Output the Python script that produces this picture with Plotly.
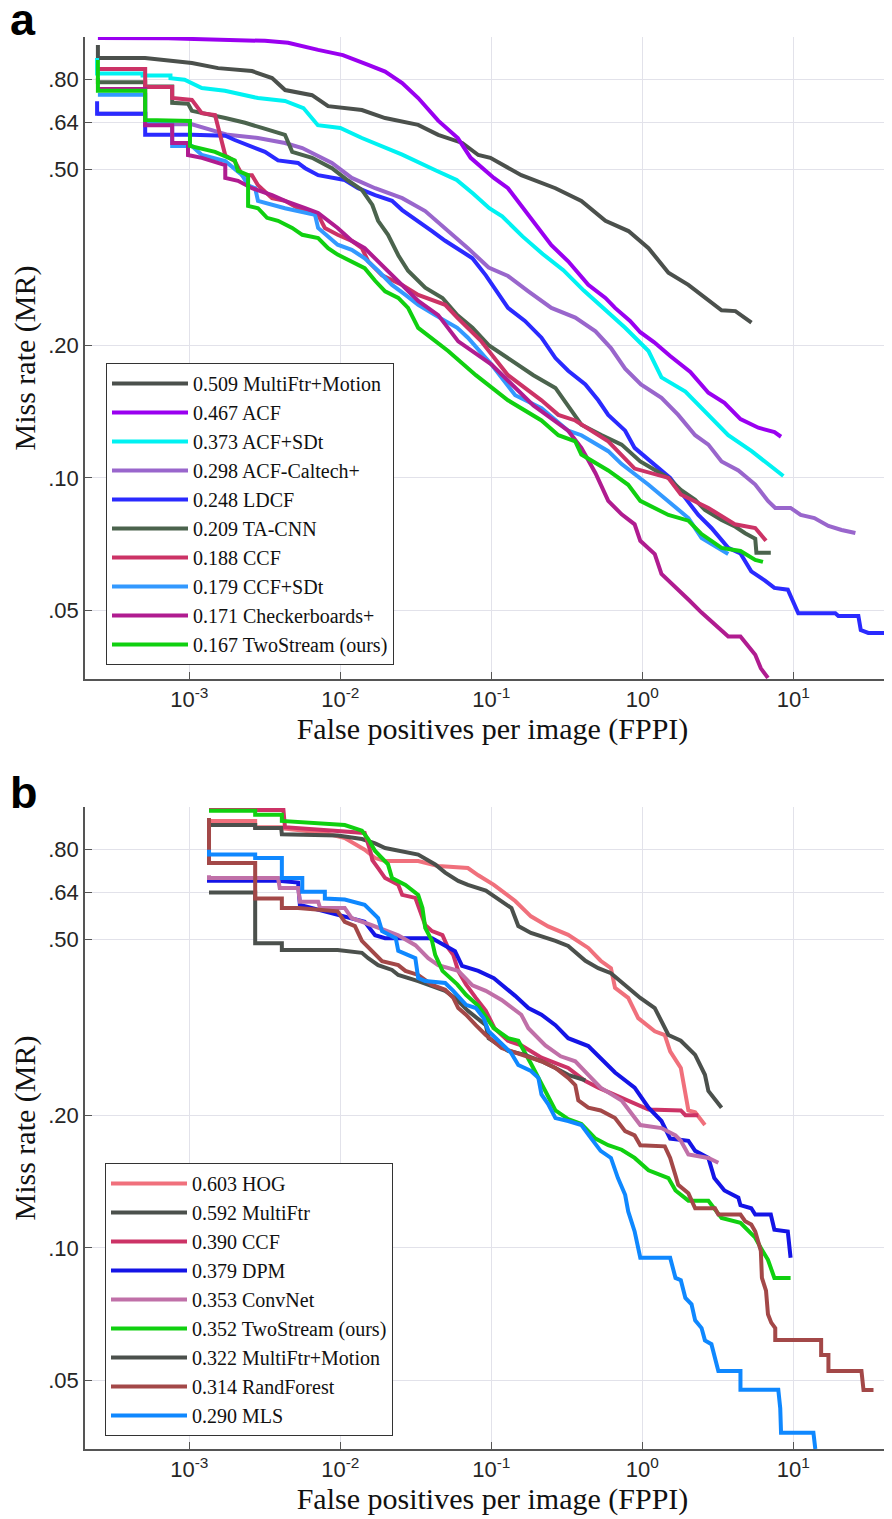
import plotly.graph_objects as go

# ---------------- Panel a data (FPPI, miss rate) ----------------
a_names = ["0.509 MultiFtr+Motion", "0.467 ACF", "0.373 ACF+SDt", "0.298 ACF-Caltech+",
           "0.248 LDCF", "0.209 TA-CNN", "0.188 CCF", "0.179 CCF+SDt",
           "0.171 Checkerboards+", "0.167 TwoStream (ours)"]
a_colors = ["#4b504c", "#9a00f0", "#00f2f2", "#9966cc", "#2a2aff",
            "#4b634d", "#cc3366", "#3399ff", "#b01c90", "#10d010"]

a_mfm_x = [2.48e-4, 2.48e-4, 5.09e-4, 7.68e-4, 1.04e-3, 1.55e-3, 2.60e-3, 3.53e-3, 4.31e-3, 6.50e-3,
           8.30e-3, 1.39e-2, 1.98e-2, 3.28e-2, 4.45e-2, 6.42e-2, 8.20e-2, 9.86e-2, 0.158, 0.266,
           0.395, 0.570, 0.810, 1.10, 1.49, 2.02, 2.74, 3.35, 4.14, 5.29]
a_mfm_y = [0.959, 0.896, 0.896, 0.882, 0.873, 0.850, 0.837, 0.807, 0.758, 0.738,
           0.697, 0.683, 0.655, 0.632, 0.600, 0.575, 0.540, 0.532, 0.486, 0.454,
           0.425, 0.383, 0.363, 0.332, 0.292, 0.274, 0.252, 0.240, 0.239, 0.225]

a_acf_x = [2.48e-4, 7.23e-4, 3.17e-3, 4.51e-3, 7.13e-3, 1.04e-2, 1.53e-2, 1.98e-2, 2.57e-2, 3.28e-2,
           4.45e-2, 6.0e-2, 7.3e-2, 0.104, 0.129, 0.176, 0.250, 0.323, 0.439, 0.57,
           0.66, 0.83, 0.97, 1.20, 1.53, 2.08, 2.74, 3.50, 4.47, 5.87, 7.51, 8.3]
a_acf_y = [0.995, 0.993, 0.98, 0.97, 0.935, 0.91, 0.865, 0.835, 0.786, 0.727,
           0.646, 0.59, 0.532, 0.479, 0.454, 0.395, 0.337, 0.31, 0.274, 0.256,
           0.243, 0.227, 0.214, 0.203, 0.189, 0.174, 0.156, 0.148, 0.136, 0.130, 0.127, 0.124]

a_acfsdt_x = [2.45e-4, 2.45e-4, 4.9e-4, 4.9e-4, 7.5e-4, 7.5e-4, 9.3e-4, 1.21e-3, 1.72e-3, 2.85e-3,
              4.3e-3, 5.7e-3, 7.1e-3, 1.0e-2, 1.39e-2, 1.98e-2, 2.57e-2, 4.3e-2, 5.9e-2, 7.6e-2,
              0.097, 0.118, 0.161, 0.219, 0.30, 0.41, 0.55, 0.77, 1.10, 1.34,
              1.93, 2.46, 3.19, 3.71, 5.3, 6.8, 8.6]
a_acfsdt_y = [0.896, 0.826, 0.826, 0.818, 0.818, 0.806, 0.80, 0.766, 0.755, 0.727,
              0.716, 0.690, 0.631, 0.622, 0.590, 0.560, 0.541, 0.498, 0.474, 0.441,
              0.409, 0.392, 0.353, 0.322, 0.296, 0.266, 0.243, 0.219, 0.194, 0.169,
              0.157, 0.144, 0.1315, 0.125, 0.115, 0.1075, 0.101]

a_acfcal_x = [2.45e-4, 5.1e-4, 5.1e-4, 1.04e-3, 1.8e-3, 2.85e-3, 4.3e-3, 5.6e-3, 8.8e-3, 1.19e-2,
              1.7e-2, 2.57e-2, 3.65e-2, 4.95e-2, 7.0e-2, 9.6e-2, 0.129, 0.176, 0.25, 0.36,
              0.49, 0.62, 0.77, 0.98, 1.34, 1.73, 2.24, 2.74, 3.35, 4.33,
              5.6, 6.8, 7.6, 9.6, 11.2, 13.8, 17.1, 20.9, 25.8]
a_acfcal_y = [0.67, 0.67, 0.634, 0.634, 0.60, 0.59, 0.575, 0.56, 0.518, 0.479,
              0.454, 0.431, 0.403, 0.369, 0.332, 0.30, 0.287, 0.265, 0.243, 0.231,
              0.215, 0.197, 0.177, 0.163, 0.152, 0.139, 0.125, 0.119, 0.109, 0.104,
              0.0966, 0.0887, 0.0855, 0.0855, 0.0824, 0.0811, 0.0778, 0.0762, 0.075]

a_ldcf_x = [2.45e-4, 2.45e-4, 5.1e-4, 5.1e-4, 1.04e-3, 1.73e-3, 2.0e-3, 2.6e-3, 3.17e-3, 3.87e-3,
            5.25e-3, 5.85e-3, 7.13e-3, 1.07e-2, 1.31e-2, 1.7e-2, 2.2e-2, 2.57e-2, 3.28e-2, 4.05e-2,
            4.95e-2, 6.04e-2, 7.5e-2, 9.2e-2, 0.111, 0.129, 0.167, 0.215, 0.266, 0.323,
            0.42, 0.511, 0.595, 0.77, 0.89, 1.21, 1.53, 1.93, 2.35, 2.87,
            3.71, 4.47, 5.27, 6.5, 7.5, 9.2, 10.3, 10.8, 19.0, 19.9,
            27.0, 28.0, 31.4, 51.0]
a_ldcf_y = [0.715, 0.67, 0.67, 0.60, 0.60, 0.597, 0.584, 0.565, 0.549, 0.525,
            0.518, 0.504, 0.486, 0.474, 0.454, 0.438, 0.425, 0.405, 0.383, 0.363,
            0.345, 0.330, 0.315, 0.288, 0.263, 0.243, 0.227, 0.208, 0.187, 0.175,
            0.163, 0.150, 0.139, 0.128, 0.117, 0.107, 0.100, 0.090, 0.0824, 0.077,
            0.0694, 0.0674, 0.0614, 0.0585, 0.0563, 0.0558, 0.0514, 0.0493, 0.0493, 0.0486,
            0.0486, 0.0452, 0.0445, 0.0445]

a_tacnn_x = [2.48e-4, 2.48e-4, 5.1e-4, 5.1e-4, 7.7e-4, 7.7e-4, 9.8e-4, 1.04e-3, 1.73e-3, 2.34e-3,
             3.03e-3, 4.3e-3, 4.8e-3, 6.5e-3, 8.8e-3, 1.13e-2, 1.39e-2, 1.63e-2, 1.78e-2, 2.07e-2,
             2.42e-2, 2.81e-2, 3.65e-2, 4.75e-2, 5.95e-2, 7.5e-2, 9.6e-2, 0.129, 0.19, 0.266,
             0.323, 0.395, 0.54, 0.73, 0.97, 1.49, 1.8, 2.24, 2.6, 3.35,
             4.14, 4.8, 5.6, 5.7, 7.1]
a_tacnn_y = [0.807, 0.79, 0.79, 0.772, 0.772, 0.709, 0.706, 0.68, 0.655, 0.639,
             0.622, 0.60, 0.549, 0.532, 0.504, 0.472, 0.45, 0.416, 0.383, 0.356,
             0.320, 0.295, 0.270, 0.256, 0.234, 0.219, 0.200, 0.187, 0.171, 0.160,
             0.146, 0.132, 0.125, 0.119, 0.109, 0.100, 0.0939, 0.0892, 0.0846, 0.0803,
             0.0775, 0.0749, 0.0728, 0.0677, 0.0677]

a_ccf_x = [2.48e-4, 5.1e-4, 5.1e-4, 7.7e-4, 7.7e-4, 1.04e-3, 1.21e-3, 1.48e-3, 1.73e-3, 2.0e-3,
           2.24e-3, 2.6e-3, 2.85e-3, 3.53e-3, 4.3e-3, 5.25e-3, 7.13e-3, 7.9e-3, 9.6e-3, 1.19e-2,
           1.39e-2, 1.53e-2, 1.89e-2, 2.57e-2, 3.28e-2, 4.95e-2, 5.95e-2, 8.5e-2, 0.129, 0.215,
           0.278, 0.36, 0.595, 0.89, 1.49, 1.8, 2.74, 4.1, 5.6, 6.6]
a_ccf_y = [0.846, 0.846, 0.77, 0.77, 0.727, 0.72, 0.672, 0.665, 0.539, 0.523,
           0.486, 0.486, 0.461, 0.431, 0.425, 0.409, 0.395, 0.369, 0.356, 0.345,
           0.332, 0.310, 0.288, 0.274, 0.260, 0.247, 0.231, 0.205, 0.171, 0.150,
           0.139, 0.135, 0.121, 0.105, 0.100, 0.0917, 0.0855, 0.0785, 0.077, 0.072]

a_ccfsdt_x = [2.48e-4, 5.1e-4, 5.1e-4, 7.7e-4, 7.7e-4, 1.04e-3, 1.21e-3, 1.73e-3, 2.24e-3, 2.45e-3,
              2.73e-3, 2.85e-3, 4.3e-3, 6.8e-3, 7.13e-3, 9.6e-3, 1.19e-2, 1.45e-2, 1.78e-2, 2.2e-2,
              2.7e-2, 3.28e-2, 4.25e-2, 5.95e-2, 7.0e-2, 0.10, 0.144, 0.215, 0.323, 0.395,
              0.595, 0.73, 1.10, 1.66, 2.02, 2.47, 3.71]
a_ccfsdt_y = [0.74, 0.74, 0.642, 0.642, 0.566, 0.566, 0.540, 0.523, 0.486, 0.461,
              0.454, 0.425, 0.409, 0.395, 0.369, 0.338, 0.329, 0.315, 0.295, 0.274,
              0.260, 0.247, 0.234, 0.219, 0.208, 0.181, 0.154, 0.144, 0.128, 0.125,
              0.115, 0.1075, 0.0965, 0.0855, 0.0811, 0.0731, 0.0672]

a_chk_x = [2.48e-4, 5.1e-4, 5.1e-4, 7.7e-4, 7.7e-4, 9.8e-4, 9.8e-4, 1.21e-3, 1.73e-3, 1.73e-3,
           2.1e-3, 2.6e-3, 3.53e-3, 4.3e-3, 5.85e-3, 7.13e-3, 9.6e-3, 1.19e-2, 1.45e-2, 1.78e-2,
           2.2e-2, 2.7e-2, 3.28e-2, 4.45e-2, 6.04e-2, 0.10, 0.19, 0.323, 0.395, 0.49,
           0.595, 0.73, 0.89, 0.97, 1.21, 1.34, 1.66, 2.02, 2.47, 3.0,
           3.71, 4.47, 5.6, 6.1, 6.8]
a_chk_y = [0.762, 0.762, 0.631, 0.631, 0.575, 0.575, 0.540, 0.532, 0.512, 0.479,
           0.472, 0.454, 0.438, 0.425, 0.409, 0.399, 0.369, 0.345, 0.332, 0.310,
           0.288, 0.270, 0.252, 0.234, 0.204, 0.181, 0.146, 0.128, 0.117, 0.1025,
           0.0887, 0.0827, 0.0785, 0.072, 0.0672, 0.0606, 0.0563, 0.0530, 0.0495, 0.0466,
           0.0437, 0.0437, 0.0397, 0.0370, 0.0352]

a_two_x = [2.48e-4, 2.48e-4, 5.1e-4, 5.1e-4, 1.01e-3, 1.01e-3, 1.48e-3, 2.0e-3, 2.1e-3, 2.45e-3,
           2.45e-3, 2.85e-3, 3.27e-3, 3.87e-3, 4.8e-3, 5.6e-3, 7.13e-3, 8.3e-3, 9.6e-3, 1.19e-2,
           1.45e-2, 1.7e-2, 1.98e-2, 2.42e-2, 2.81e-2, 3.28e-2, 5.18e-2, 7.9e-2, 0.129, 0.215,
           0.278, 0.36, 0.395, 0.595, 0.807, 0.97, 1.49, 2.02, 2.47, 3.35,
           4.47, 5.6, 6.3]
a_two_y = [0.887, 0.755, 0.755, 0.648, 0.645, 0.566, 0.549, 0.525, 0.497, 0.486,
           0.414, 0.409, 0.389, 0.383, 0.369, 0.356, 0.350, 0.332, 0.321, 0.310,
           0.299, 0.280, 0.265, 0.256, 0.243, 0.219, 0.194, 0.171, 0.150, 0.135,
           0.125, 0.121, 0.113, 0.104, 0.0965, 0.0887, 0.0824, 0.080, 0.0746, 0.0694,
           0.0683, 0.0652, 0.0645]

a_series = [(a_mfm_x, a_mfm_y), (a_acf_x, a_acf_y), (a_acfsdt_x, a_acfsdt_y),
            (a_acfcal_x, a_acfcal_y), (a_ldcf_x, a_ldcf_y), (a_tacnn_x, a_tacnn_y),
            (a_ccf_x, a_ccf_y), (a_ccfsdt_x, a_ccfsdt_y), (a_chk_x, a_chk_y),
            (a_two_x, a_two_y)]

# ---------------- Panel b data ----------------
b_names = ["0.603 HOG", "0.592 MultiFtr", "0.390 CCF", "0.379 DPM", "0.353 ConvNet",
           "0.352 TwoStream (ours)", "0.322 MultiFtr+Motion", "0.314 RandForest", "0.290 MLS"]
b_colors = ["#f0707c", "#4b504c", "#cc3366", "#1414e6", "#c070a8",
            "#10d010", "#4b504c", "#a34848", "#0f88ff"]

b_hog_x = [1.35e-3, 2.73e-3, 2.73e-3, 4.06e-3, 4.06e-3, 7.9e-3, 1.07e-2, 1.45e-2, 1.7e-2, 1.98e-2,
           3.28e-2, 4.45e-2, 7.0e-2, 8.2e-2, 0.104, 0.144, 0.183, 0.238, 0.323, 0.439,
           0.53, 0.62, 0.66, 0.807, 0.94, 1.21, 1.41, 1.53, 1.8, 1.93,
           2.02, 2.24, 2.6]
b_hog_y = [0.93, 0.93, 0.90, 0.90, 0.895, 0.873, 0.85, 0.80, 0.766, 0.754,
           0.754, 0.735, 0.727, 0.70, 0.666, 0.612, 0.565, 0.536, 0.513, 0.479,
           0.448, 0.431, 0.389, 0.369, 0.332, 0.310, 0.304, 0.279, 0.256, 0.227,
           0.205, 0.203, 0.190]

b_mf_x = [1.35e-3, 2.73e-3, 2.73e-3, 4.06e-3, 4.1e-3, 9.6e-3, 1.39e-2, 1.7e-2, 1.98e-2, 2.81e-2,
          3.28e-2, 4.25e-2, 4.95e-2, 6.04e-2, 7.0e-2, 9.2e-2, 0.117, 0.136, 0.151, 0.183,
          0.266, 0.323, 0.42, 0.511, 0.62, 0.807, 0.97, 1.21, 1.49, 1.8,
          2.24, 2.6, 2.74, 3.35]
b_mf_y = [0.91, 0.91, 0.896, 0.896, 0.867, 0.862, 0.846, 0.827, 0.807, 0.788,
          0.78, 0.741, 0.71, 0.68, 0.666, 0.646, 0.613, 0.59, 0.537, 0.518,
          0.497, 0.484, 0.448, 0.431, 0.42, 0.389, 0.369, 0.35, 0.304, 0.295,
          0.274, 0.247, 0.227, 0.208]

b_ccf_x = [1.35e-3, 4.2e-3, 4.3e-3, 7.9e-3, 1.13e-2, 1.45e-2, 1.58e-2, 1.63e-2, 1.78e-2, 1.98e-2,
           2.42e-2, 2.57e-2, 3.14e-2, 3.65e-2, 4.05e-2, 4.75e-2, 5.18e-2, 5.6e-2, 6.04e-2, 6.8e-2,
           7.9e-2, 9.2e-2, 0.105, 0.129, 0.158, 0.215, 0.323, 0.42, 0.511, 0.66,
           0.89, 1.10, 1.8, 1.93, 2.35]
b_ccf_y = [0.985, 0.985, 0.90, 0.887, 0.882, 0.873, 0.795, 0.758, 0.727, 0.69,
           0.666, 0.632, 0.622, 0.54, 0.523, 0.512, 0.479, 0.462, 0.425, 0.396,
           0.369, 0.345, 0.315, 0.295, 0.288, 0.270, 0.256, 0.239, 0.231, 0.222,
           0.212, 0.206, 0.205, 0.200, 0.200]

b_dpm_x = [1.35e-3, 1.35e-3, 3.87e-3, 5.25e-3, 5.4e-3, 7.9e-3, 1.07e-2, 1.45e-2, 1.7e-2, 1.98e-2,
           4.05e-2, 4.95e-2, 5.75e-2, 6.4e-2, 8.2e-2, 0.104, 0.144, 0.176, 0.215, 0.266,
           0.323, 0.439, 0.53, 0.66, 0.89, 1.10, 1.34, 1.53, 2.02, 2.24,
           2.74, 3.0, 3.5, 4.33, 4.47, 5.27, 5.6, 7.1, 7.5, 9.2, 9.6]
b_dpm_y = [0.69, 0.68, 0.68, 0.674, 0.60, 0.58, 0.566, 0.549, 0.512, 0.504,
           0.504, 0.486, 0.471, 0.436, 0.425, 0.409, 0.373, 0.350, 0.338, 0.320,
           0.299, 0.287, 0.270, 0.25, 0.231, 0.208, 0.194, 0.177, 0.175, 0.166,
           0.160, 0.144, 0.135, 0.130, 0.125, 0.123, 0.119, 0.119, 0.110, 0.109, 0.095]

b_conv_x = [1.35e-3, 1.35e-3, 3.87e-3, 3.97e-3, 5.25e-3, 5.4e-3, 7.13e-3, 7.35e-3, 1.07e-2, 1.19e-2,
            1.6e-2, 2.42e-2, 3.14e-2, 3.82e-2, 4.45e-2, 6.04e-2, 7.5e-2, 9.2e-2, 0.117, 0.158,
            0.176, 0.228, 0.288, 0.36, 0.439, 0.53, 0.73, 0.97, 1.34, 1.66,
            1.8, 2.02, 2.74, 3.19]
b_conv_y = [0.70, 0.69, 0.69, 0.655, 0.655, 0.61, 0.61, 0.59, 0.59, 0.56,
            0.54, 0.512, 0.486, 0.454, 0.438, 0.425, 0.394, 0.383, 0.365, 0.338,
            0.315, 0.288, 0.272, 0.265, 0.247, 0.231, 0.216, 0.190, 0.187, 0.180,
            0.175, 0.163, 0.160, 0.156]

b_two_x = [1.35e-3, 2.73e-3, 2.73e-3, 4.1e-3, 4.1e-3, 6.8e-3, 1.07e-2, 1.39e-2, 1.53e-2, 1.7e-2,
           2.07e-2, 2.2e-2, 2.7e-2, 3.28e-2, 3.5e-2, 3.65e-2, 4.05e-2, 4.25e-2, 4.75e-2, 5.95e-2,
           6.8e-2, 8.2e-2, 0.104, 0.129, 0.151, 0.183, 0.238, 0.266, 0.323, 0.395,
           0.49, 0.595, 0.73, 0.89, 1.10, 1.49, 1.66, 2.02, 2.74, 3.35,
           4.47, 5.04, 5.6, 6.2, 6.8, 7.5, 9.6]
b_two_y = [0.98, 0.98, 0.96, 0.96, 0.93, 0.92, 0.91, 0.884, 0.846, 0.795,
           0.741, 0.69, 0.666, 0.632, 0.59, 0.532, 0.497, 0.462, 0.425, 0.396,
           0.375, 0.354, 0.315, 0.299, 0.295, 0.262, 0.222, 0.205, 0.196, 0.191,
           0.177, 0.171, 0.167, 0.160, 0.15, 0.144, 0.135, 0.128, 0.128, 0.117,
           0.114, 0.109, 0.1055, 0.099, 0.094, 0.0855, 0.0855]

b_mfm_x = [1.35e-3, 2.73e-3, 2.73e-3, 4.1e-3, 4.1e-3, 9.6e-3, 1.39e-2, 1.53e-2, 1.78e-2, 2.2e-2,
           2.42e-2, 3.28e-2, 4.95e-2, 5.75e-2, 7.0e-2, 9.2e-2, 9.6e-2, 0.129, 0.167, 0.215,
           0.266, 0.323, 0.42]
b_mfm_y = [0.64, 0.64, 0.491, 0.491, 0.474, 0.474, 0.467, 0.454, 0.438, 0.427,
           0.416, 0.403, 0.383, 0.369, 0.345, 0.320, 0.299, 0.280, 0.274, 0.265,
           0.256, 0.247, 0.240]

b_rf_x = [1.35e-3, 1.35e-3, 2.73e-3, 2.73e-3, 4.1e-3, 4.1e-3, 5.25e-3, 9.6e-3, 1.07e-2, 1.25e-2,
          1.39e-2, 1.7e-2, 1.89e-2, 2.42e-2, 2.7e-2, 3.28e-2, 4.05e-2, 4.95e-2, 5.6e-2, 6.04e-2,
          6.8e-2, 7.9e-2, 9.2e-2, 0.117, 0.158, 0.215, 0.266, 0.323, 0.36, 0.377,
          0.439, 0.53, 0.66, 0.77, 0.89, 0.97, 1.41, 1.53, 1.66, 1.73,
          2.02, 2.24, 3.03, 3.19, 4.47, 4.8, 5.27, 5.6, 6.1, 6.2,
          6.6, 6.8, 7.15, 7.6, 7.6, 15.3, 15.3, 17.1, 17.1, 28.3,
          29.2, 34.0]
b_rf_y = [0.944, 0.746, 0.746, 0.62, 0.62, 0.59, 0.59, 0.58, 0.549, 0.537,
          0.497, 0.462, 0.447, 0.438, 0.425, 0.416, 0.395, 0.385, 0.369, 0.350,
          0.338, 0.320, 0.304, 0.284, 0.274, 0.265, 0.256, 0.243, 0.234, 0.216,
          0.208, 0.205, 0.197, 0.184, 0.180, 0.171, 0.170, 0.160, 0.146, 0.139,
          0.133, 0.123, 0.123, 0.119, 0.119, 0.115, 0.113, 0.109, 0.0985, 0.0855,
          0.080, 0.0707, 0.0677, 0.0658, 0.0618, 0.0618, 0.0572, 0.0572, 0.0526, 0.0526,
          0.0476, 0.0476]

b_mls_x = [1.35e-3, 1.35e-3, 2.73e-3, 2.73e-3, 4.1e-3, 4.1e-3, 5.6e-3, 5.6e-3, 7.9e-3, 7.9e-3,
           1.07e-2, 1.45e-2, 1.78e-2, 1.89e-2, 2.33e-2, 2.42e-2, 3.14e-2, 3.28e-2, 3.65e-2, 4.95e-2,
           5.6e-2, 6.8e-2, 7.9e-2, 8.9e-2, 9.6e-2, 0.111, 0.135, 0.151, 0.183, 0.205,
           0.215, 0.238, 0.266, 0.323, 0.395, 0.46, 0.53, 0.62, 0.69, 0.77,
           0.807, 0.89, 0.94, 0.97, 1.53, 1.66, 1.8, 1.93, 2.12, 2.24,
           2.47, 2.6, 2.87, 3.03, 3.19, 4.47, 4.47, 7.96, 8.2, 8.3,
           13.6, 14.0]
b_mls_y = [0.80, 0.78, 0.78, 0.766, 0.766, 0.69, 0.69, 0.642, 0.642, 0.62,
           0.617, 0.60, 0.56, 0.523, 0.504, 0.472, 0.454, 0.409, 0.403, 0.399,
           0.383, 0.356, 0.350, 0.332, 0.31, 0.295, 0.277, 0.260, 0.252, 0.243,
           0.223, 0.212, 0.197, 0.194, 0.190, 0.177, 0.166, 0.160, 0.144, 0.132,
           0.121, 0.109, 0.100, 0.095, 0.095, 0.0855, 0.0845, 0.077, 0.0745, 0.0685,
           0.0658, 0.0617, 0.0605, 0.0563, 0.0526, 0.0526, 0.0477, 0.0477, 0.0433, 0.0381,
           0.0381, 0.035]

b_series = [(b_hog_x, b_hog_y), (b_mf_x, b_mf_y), (b_ccf_x, b_ccf_y), (b_dpm_x, b_dpm_y),
            (b_conv_x, b_conv_y), (b_two_x, b_two_y), (b_mfm_x, b_mfm_y),
            (b_rf_x, b_rf_y), (b_mls_x, b_mls_y)]

# ---------------- Axis ticks ----------------
x_tickvals = [1e-3, 1e-2, 1e-1, 1e0, 1e1]
x_ticktext = ["10<sup>-3</sup>", "10<sup>-2</sup>", "10<sup>-1</sup>", "10<sup>0</sup>", "10<sup>1</sup>"]
y_tickvals = [0.05, 0.10, 0.20, 0.50, 0.64, 0.80, 1.0]
y_ticktext = [".05", ".10", ".20", ".50", ".64", ".80", ""]

LW = 4.0
fig = go.Figure()
for (xs, ys), name, col in zip(a_series, a_names, a_colors):
    fig.add_trace(go.Scatter(x=xs, y=ys, mode="lines", name=name,
                             line=dict(color=col, width=LW),
                             xaxis="x", yaxis="y", legend="legend"))
for (xs, ys), name, col in zip(b_series, b_names, b_colors):
    fig.add_trace(go.Scatter(x=xs, y=ys, mode="lines", name=name,
                             line=dict(color=col, width=LW),
                             xaxis="x2", yaxis="y2", legend="legend2"))

W, H = 892, 1519
L = 77
def py(p):
    return 1 - p / H

tick_font = dict(family="Liberation Sans, Arial, sans-serif", size=22, color="#262626")
title_font = dict(family="Liberation Serif, Times New Roman, serif", size=30, color="#111111")
grid = "#e2e2ea"
axcol = "#555555"

def xaxis(domain_anchor):
    return dict(type="log", range=[-3.691, 1.707], domain=[0, 1], anchor=domain_anchor,
                automargin=False,
                tickvals=x_tickvals, ticktext=x_ticktext, tickfont=tick_font,
                ticks="inside", ticklen=7, tickcolor=axcol, tickwidth=1.2,
                showgrid=True, gridcolor=grid, gridwidth=1,
                showline=True, linecolor=axcol, linewidth=1.5, zeroline=False,
                title=dict(text="False positives per image (FPPI)", font=title_font, standoff=6))

def yaxis(dom, anchor):
    return dict(type="log", range=[-1.456, 0.0], domain=dom, anchor=anchor,
                automargin=False,
                tickvals=y_tickvals, ticktext=y_ticktext, tickfont=tick_font,
                ticks="inside", ticklen=7, tickcolor=axcol, tickwidth=1.2,
                showgrid=True, gridcolor=grid, gridwidth=1,
                showline=True, linecolor=axcol, linewidth=1.5, zeroline=False,
                title=dict(text="Miss rate (MR)", font=title_font, standoff=8))

leg_font = dict(family="Liberation Serif, Times New Roman, serif", size=20, color="#111111")
legend_common = dict(bgcolor="white", bordercolor="#333333", borderwidth=1, font=leg_font,
                     itemwidth=76, tracegroupgap=0, xanchor="left", yanchor="top",
                     itemclick=False)

panel_font = dict(family="Liberation Sans, Arial, sans-serif", size=45, color="black")
fig.update_layout(
    width=W, height=H,
    margin=dict(l=L, r=0, t=0, b=0, autoexpand=False),
    paper_bgcolor="white", plot_bgcolor="white",
    xaxis=xaxis("y"),
    yaxis=yaxis([py(671), py(29)], "x"),
    xaxis2=xaxis("y2"),
    yaxis2=yaxis([py(1441), py(799)], "x2"),
    legend=dict(x=(98 - L) / (W - L), y=py(355), **legend_common),
    legend2=dict(x=(97 - L) / (W - L), y=py(1155), **legend_common),
    annotations=[
        dict(text="<b>a</b>", xref="paper", yref="paper", x=-L / (W - L), y=1.0 + 16 / H,
             xanchor="left", yanchor="top", showarrow=False, font=panel_font),
        dict(text="<b>b</b>", xref="paper", yref="paper", x=-L / (W - L), y=py(757),
             xanchor="left", yanchor="top", showarrow=False, font=panel_font),
    ],
    showlegend=True,
)

fig.write_html("out.html")
